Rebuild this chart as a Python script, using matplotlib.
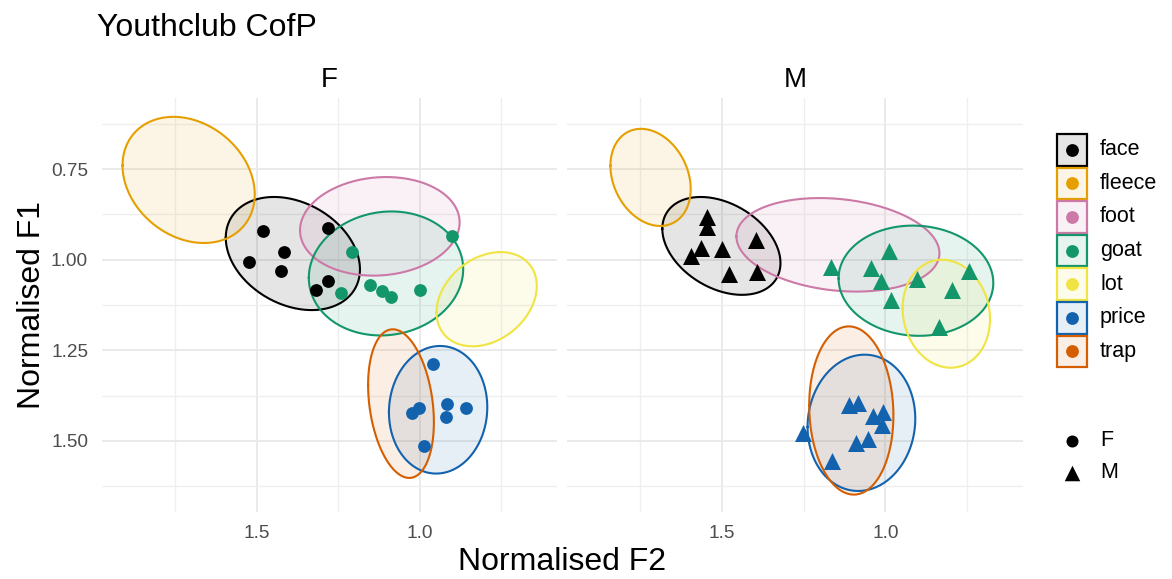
import numpy as np
import matplotlib
matplotlib.use("Agg")
import matplotlib.pyplot as plt
from matplotlib.patches import Rectangle

plt.rcParams["font.family"] = ["Liberation Sans", "DejaVu Sans"]

# ---- data -------------------------------------------------------------
vowels = ["face", "fleece", "foot", "goat", "lot", "price", "trap"]
vowel_colors = ["#000000", "#E69F00", "#CC79A7", "#13966A",
                "#F0E442", "#1262AE", "#D55E00"]
speakers = ["F", "M"]

# token measurements (F2, F1), female speaker
f_face_f2 = [1.481, 1.281, 1.416, 1.525, 1.426, 1.282, 1.319]
f_face_f1 = [0.920, 0.913, 0.979, 1.006, 1.032, 1.058, 1.083]
f_goat_f2 = [1.206, 0.900, 1.152, 1.114, 1.089, 1.240, 1.000]
f_goat_f1 = [0.979, 0.936, 1.069, 1.087, 1.103, 1.092, 1.085]
f_price_f2 = [0.958, 1.002, 1.022, 0.915, 0.856, 0.920, 0.987]
f_price_f1 = [1.287, 1.409, 1.423, 1.397, 1.409, 1.435, 1.513]

# token measurements (F2, F1), male speaker
m_face_f2 = [1.545, 1.545, 1.565, 1.594, 1.499, 1.397, 1.479, 1.392]
m_face_f1 = [0.882, 0.910, 0.968, 0.991, 0.970, 0.947, 1.039, 1.035]
m_goat_f2 = [1.167, 0.988, 1.044, 1.013, 0.983, 0.904, 0.744, 0.794, 0.834]
m_goat_f1 = [1.021, 0.975, 1.023, 1.060, 1.110, 1.052, 1.032, 1.085, 1.187]
m_price_f2 = [1.252, 1.162, 1.110, 1.083, 1.039, 1.006, 1.011, 1.090, 1.054]
m_price_f1 = [1.478, 1.556, 1.400, 1.395, 1.432, 1.421, 1.455, 1.505, 1.494]

# vowel-space ellipses: centre, half-extent along F2 / F1, correlation
ell_f_cf2 = [1.389, 1.709, 1.122, 1.103, 0.794, 0.943, 1.057]
ell_f_cf1 = [0.983, 0.780, 0.908, 1.038, 1.109, 1.414, 1.397]
ell_f_wf2 = [0.206, 0.203, 0.245, 0.237, 0.154, 0.151, 0.101]
ell_f_wf1 = [0.156, 0.174, 0.136, 0.171, 0.130, 0.176, 0.205]
ell_f_rho = [-0.28, -0.23, 0.08, 0.07, 0.28, 0.04, -0.25]

ell_m_cf2 = [1.502, 1.719, 1.145, 0.906, 0.813, 1.073, 1.104]
ell_m_cf1 = [0.962, 0.773, 0.959, 1.058, 1.149, 1.450, 1.416]
ell_m_wf2 = [0.181, 0.123, 0.311, 0.237, 0.134, 0.165, 0.129]
ell_m_wf1 = [0.135, 0.134, 0.129, 0.152, 0.149, 0.188, 0.232]
ell_m_rho = [-0.35, -0.24, -0.18, -0.04, -0.10, 0.06, -0.06]

x_major = [1.5, 1.0]
x_major_labels = ["1.5", "1.0"]
x_minor = [1.75, 1.25, 0.75]
y_major = [0.75, 1.0, 1.25, 1.5]
y_major_labels = ["0.75", "1.00", "1.25", "1.50"]
y_minor = [0.625, 0.875, 1.125, 1.375, 1.625]

# ---- figure -----------------------------------------------------------
W, H = 1172, 579
fig = plt.figure(figsize=(W / 100, H / 100), dpi=100)
fig.patch.set_facecolor("white")


def fx(px):
    return px / W


def fy(py):
    return 1 - py / H


panel_top, panel_bot = 98, 512
ax_f = fig.add_axes([fx(102), fy(panel_bot), fx(455), (panel_bot - panel_top) / H])
ax_m = fig.add_axes([fx(567), fy(panel_bot), fx(456), (panel_bot - panel_top) / H])

tick_color = "#4D4D4D"


def style_panel(ax, show_y):
    ax.set_xlim(1.975, 0.578)
    ax.set_ylim(1.696, 0.554)
    ax.set_xticks(x_major)
    ax.set_xticklabels(x_major_labels)
    ax.set_xticks(x_minor, minor=True)
    ax.set_yticks(y_major)
    ax.set_yticks(y_minor, minor=True)
    if show_y:
        ax.set_yticklabels(y_major_labels)
    else:
        ax.set_yticklabels([])
    ax.tick_params(which="both", length=0)
    ax.tick_params(axis="x", pad=9.5, labelsize=13.7, labelcolor=tick_color)
    ax.tick_params(axis="y", pad=10, labelsize=13.7, labelcolor=tick_color)
    for s in ax.spines.values():
        s.set_visible(False)
    ax.grid(which="major", color="#E8E8E8", lw=1.3)
    ax.grid(which="minor", color="#EEEEEE", lw=0.9)
    ax.set_axisbelow(True)


def draw_ellipses(ax, cf2, cf1, wf2, wf1, rho):
    t = np.linspace(0, 2 * np.pi, 240)
    for i, col in enumerate(vowel_colors):
        x = cf2[i] + wf2[i] * np.cos(t)
        y = cf1[i] + wf1[i] * (rho[i] * np.cos(t) + np.sqrt(1 - rho[i] ** 2) * np.sin(t))
        ax.fill(x, y, color=col, alpha=0.1, lw=0, zorder=2)
        ax.plot(x, y, color=col, lw=1.5, zorder=3)


style_panel(ax_f, True)
style_panel(ax_m, False)

draw_ellipses(ax_f, ell_f_cf2, ell_f_cf1, ell_f_wf2, ell_f_wf1, ell_f_rho)
draw_ellipses(ax_m, ell_m_cf2, ell_m_cf1, ell_m_wf2, ell_m_wf1, ell_m_rho)

circle_size = 85
tri_size = 150
ax_f.scatter(f_face_f2, f_face_f1, s=circle_size, marker="o", color=vowel_colors[0], lw=0, zorder=4)
ax_f.scatter(f_goat_f2, f_goat_f1, s=circle_size, marker="o", color=vowel_colors[3], lw=0, zorder=4)
ax_f.scatter(f_price_f2, f_price_f1, s=circle_size, marker="o", color=vowel_colors[5], lw=0, zorder=4)
ax_m.scatter(m_face_f2, m_face_f1, s=tri_size, marker="^", color=vowel_colors[0], lw=0, zorder=4)
ax_m.scatter(m_goat_f2, m_goat_f1, s=tri_size, marker="^", color=vowel_colors[3], lw=0, zorder=4)
ax_m.scatter(m_price_f2, m_price_f1, s=tri_size, marker="^", color=vowel_colors[5], lw=0, zorder=4)

# ---- text -------------------------------------------------------------
fig.text(fx(97), fy(36), "Youthclub CofP", fontsize=23, ha="left", va="baseline")
fig.text(fx(329.5), fy(80), speakers[0], fontsize=20, ha="center", va="center")
fig.text(fx(795), fy(80), speakers[1], fontsize=20, ha="center", va="center")
fig.text(fx(562), fy(562), "Normalised F2", fontsize=23, ha="center", va="center")
fig.text(fx(32), fy(305), "Normalised F1", fontsize=23, ha="center", va="center",
         rotation=90)

# ---- legends ----------------------------------------------------------
lg = fig.add_axes([0, 0, 1, 1], facecolor="none")
lg.set_xlim(0, W)
lg.set_ylim(H, 0)
lg.axis("off")

key_x, key_w, key_h, key_top = 1056, 32, 33.6, 133
for i, (v, col) in enumerate(zip(vowels, vowel_colors)):
    y0 = key_top + i * key_h
    lg.add_patch(Rectangle((key_x, y0), key_w, key_h, facecolor="white",
                           edgecolor="none", zorder=1))
    lg.add_patch(Rectangle((key_x, y0), key_w, key_h, facecolor=col, alpha=0.1,
                           edgecolor="none", zorder=2))
    lg.add_patch(Rectangle((key_x + 1, y0 + 1), key_w - 2, key_h - 2,
                           facecolor="none", edgecolor=col, lw=1.6, zorder=3))
    lg.scatter([key_x + key_w / 2], [y0 + key_h / 2], s=85, color=col, lw=0, zorder=4)
    lg.text(1100, y0 + key_h / 2, v, fontsize=15.5, ha="left", va="center")

shape_markers = ["o", "^"]
shape_sizes = [75, 125]
shape_y = [441, 473]
for sp, mk, sz, yy in zip(speakers, shape_markers, shape_sizes, shape_y):
    lg.scatter([1072], [yy], s=sz, marker=mk, color="black", lw=0)
    lg.text(1100, yy, sp, fontsize=15.5, ha="left", va="center")

fig.savefig("out.png", dpi=100, facecolor="white")
